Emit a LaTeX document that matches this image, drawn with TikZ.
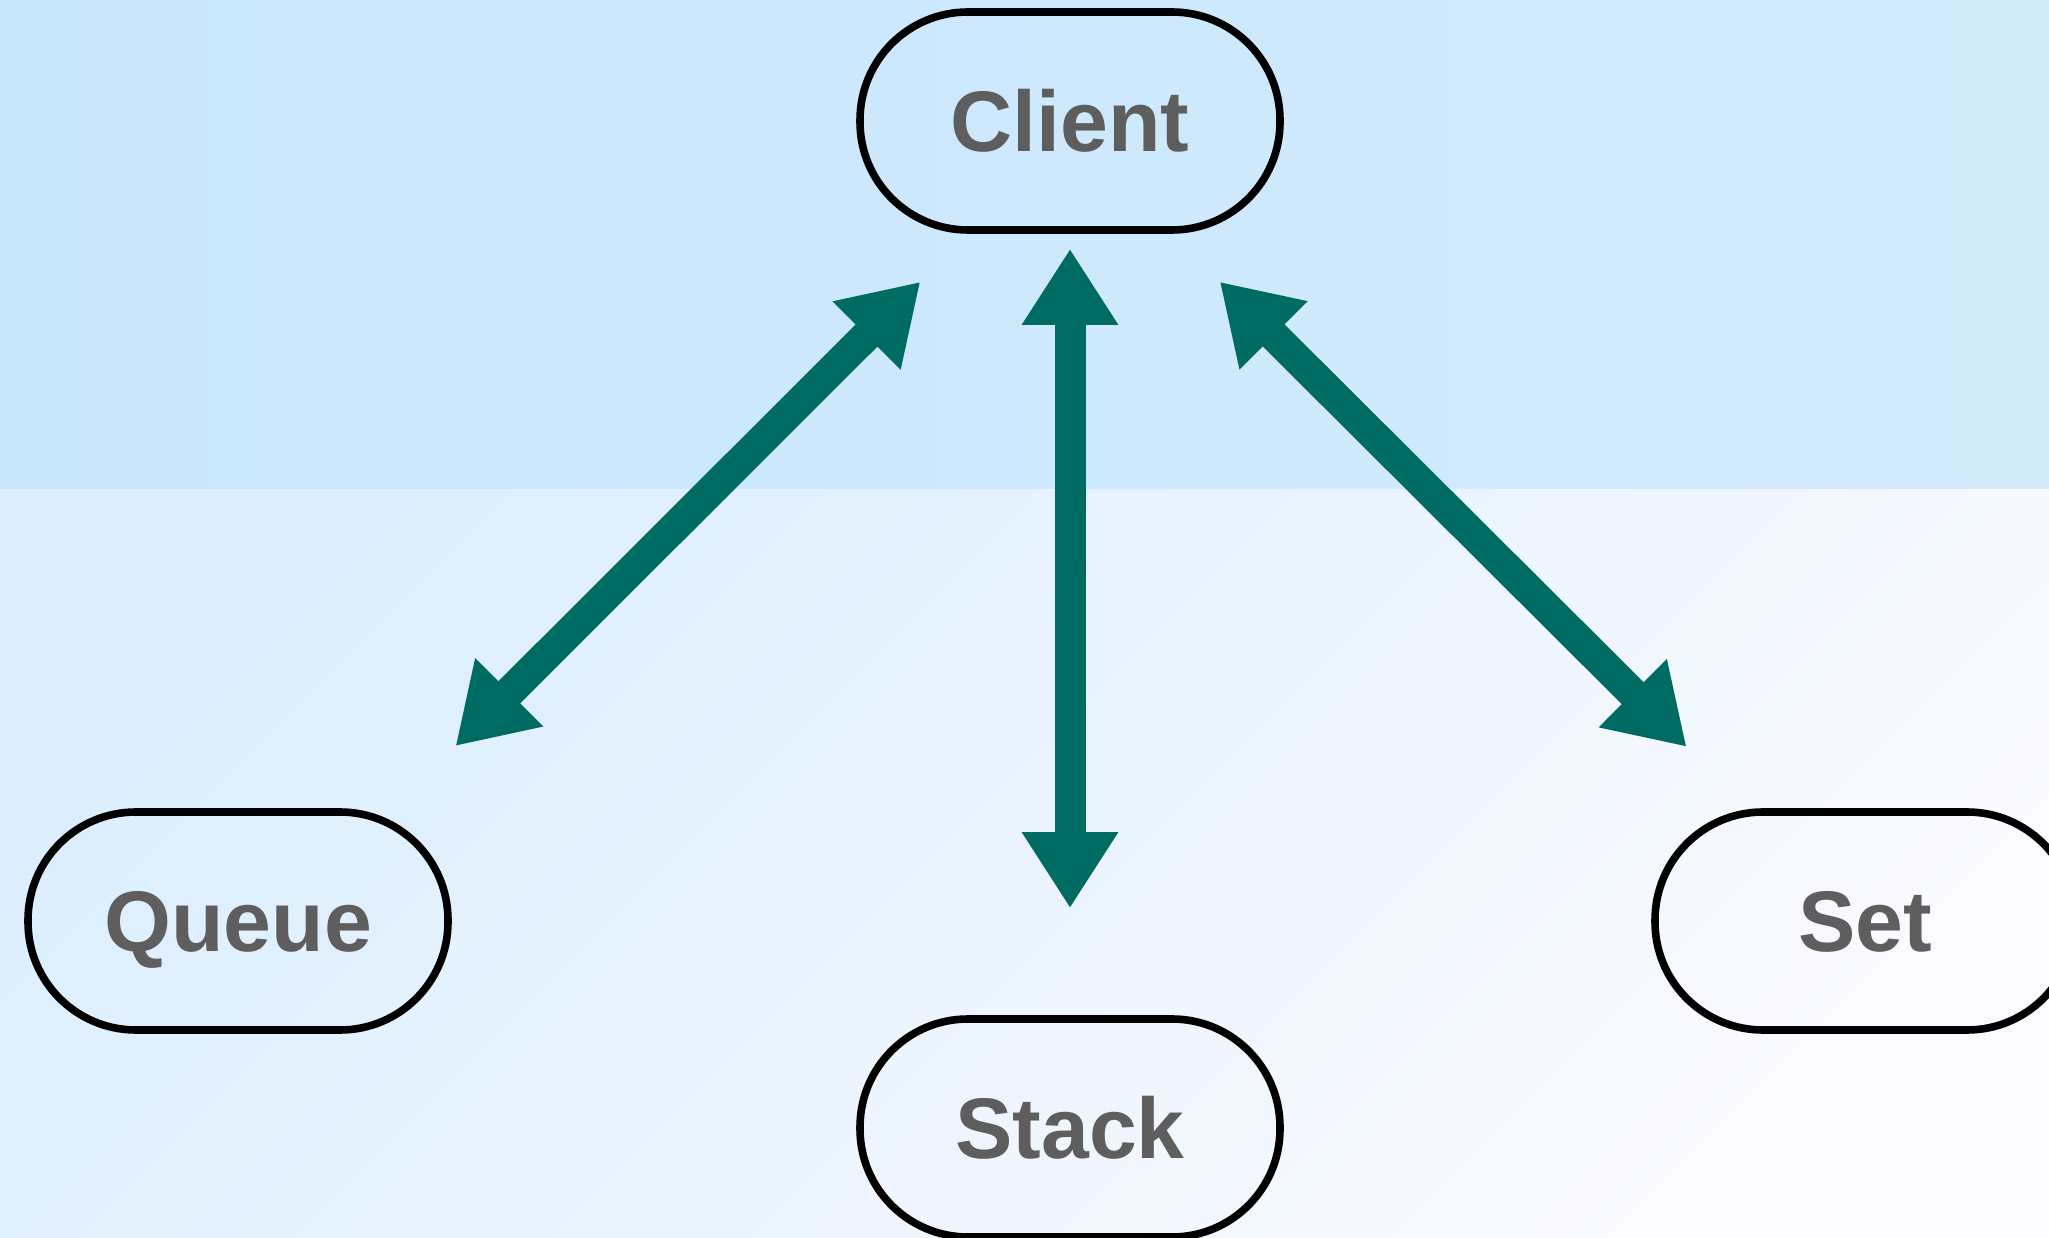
\documentclass[tikz,border=0pt]{standalone}
\usepackage{fontspec}
\setmainfont{Liberation Sans}
\usetikzlibrary{arrows.meta, positioning}

\definecolor{bgtopl}{RGB}{200,230,253}
\definecolor{bgtopr}{RGB}{212,235,252}
\definecolor{bglow}{RGB}{220,238,253}
\definecolor{bgwhite}{RGB}{250,250,255}
\definecolor{labelgray}{RGB}{94,94,94}
\definecolor{linkteal}{RGB}{0,107,99}

\tikzset{
  pill/.style={draw=black, line width=3.8pt, rounded corners=54pt,
    minimum width=210pt, minimum height=109pt, inner sep=0pt,
    text=labelgray, font=\bfseries\fontsize{43}{43}\selectfont,
    text height=30.8pt, text depth=0pt},
  link/.style={draw=linkteal, line width=15.5pt, <->,
    >={Triangle[length=38pt,width=45.5pt]}},
}

\begin{document}
\begin{tikzpicture}[x=0.5pt, y=0.5pt]
\useasboundingbox (0,0) rectangle (2049,1237);

% background
\shade[left color=bgtopl, right color=bgtopr] (0,747) rectangle (2049,1237);
\shade[top color=bglow, bottom color=bgwhite, shading angle=45]
    (0,0) rectangle (2049,747);

% nodes
\node[pill] (client) at (1070,1116) {Client};
\node[pill] (queue) at (238,316) {Queue};
\node[pill] (stack) at (1070,109) {Stack};
\node[pill] (set) at (1865,316) {Set};

% links
\draw[link, shorten <=34pt, shorten >=44pt] (client.228) -- (queue.36);
\draw[link, shorten <=7.5pt, shorten >=53.5pt] (client.south) -- (stack.north);
\draw[link, shorten <=34pt, shorten >=43.5pt] (client.312.5) -- (set.136);
\end{tikzpicture}
\end{document}
